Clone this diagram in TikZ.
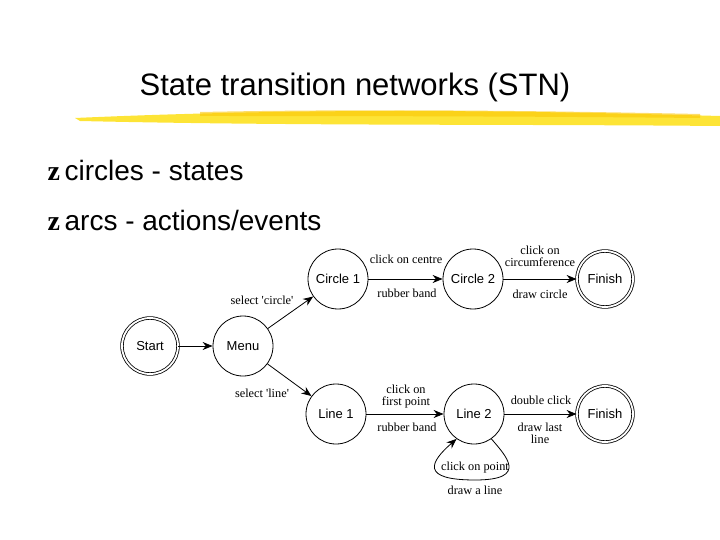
\documentclass[tikz,border=0pt]{standalone}
\usepackage{fontspec}
\setmainfont{Liberation Sans}
\newfontfamily\serifx{Liberation Serif}
\usetikzlibrary{arrows.meta}
\begin{document}
\begin{tikzpicture}[x=1pt,y=-1pt,
 st/.style={circle,draw,line width=0.8pt,minimum size=60pt,inner sep=0pt,font=\fontsize{13}{13}\selectfont},
 fin/.style={st,double,double distance=1.8pt,minimum size=56pt},
 arr/.style={-{Stealth[length=10pt,width=8pt]},line width=0.8pt},
 lab/.style={font=\serifx\fontsize{12.3}{12}\selectfont,align=center,inner sep=0pt}]
\useasboundingbox (0,0) rectangle (720,540);
\node[font=\fontsize{31}{31}\selectfont] (title) at (355,87) {State transition networks (STN)};
\fill[yellow!80!orange,opacity=0.8] (75,118) .. controls (300,108) and (500,110) .. (720,116) -- (720,126) .. controls (500,124) and (300,126) .. (80,121) -- cycle;
\fill[yellow!60!orange,opacity=0.6] (200,112) .. controls (400,108) and (600,112) .. (700,114) -- (700,118) .. controls (500,116) and (300,116) .. (200,116) -- cycle;
\node[anchor=west,font=\fontsize{28}{28}\selectfont] (b1) at (44,170) {\textbf{\serifx z}\,circles - states};
\node[anchor=west,font=\fontsize{28}{28}\selectfont] (b2) at (44,220) {\textbf{\serifx z}\,arcs - actions/events};
\node[fin] (start) at (150,346) {Start};
\node[st] (menu) at (243,346) {Menu};
\node[st] (c1) at (338,279) {Circle 1};
\node[st] (c2) at (473,279) {Circle 2};
\node[fin] (f1) at (605,279) {Finish};
\node[st] (l1) at (336,414) {Line 1};
\node[st] (l2) at (474,414) {Line 2};
\node[fin] (f2) at (605,414) {Finish};
\draw[arr] (start) -- (menu);
\draw[arr] (menu) -- (c1);
\draw[arr] (menu) -- (l1);
\draw[arr] (c1) -- (c2);
\draw[arr] (c2) -- (f1);
\draw[arr] (l1) -- (l2);
\draw[arr] (l2) -- (f2);
\draw[arr] (l2.-55) .. controls (505,455) and (530,480) .. (475,480) .. controls (420,480) and (430,462) .. (l2.-125);
\node[lab] (t1) at (262,300) {select 'circle'};
\node[lab] (t2) at (262,393) {select 'line'};
\node[lab] (t3) at (406,259) {click on centre};
\node[lab] (t4) at (407,293) {rubber band};
\node[lab] (t5) at (540,256) {click on\\circumference};
\node[lab] (t6) at (540,294) {draw circle};
\node[lab] (t7) at (406,397) {click on\\first point};
\node[lab] (t8) at (407,427) {rubber band};
\node[lab] (t9) at (541,400) {double click};
\node[lab] (t10) at (540,433) {draw last\\line};
\node[lab] (t11) at (475,468) {click on point};
\node[lab] (t12) at (475,490) {draw a line};
\end{tikzpicture}
\end{document}
